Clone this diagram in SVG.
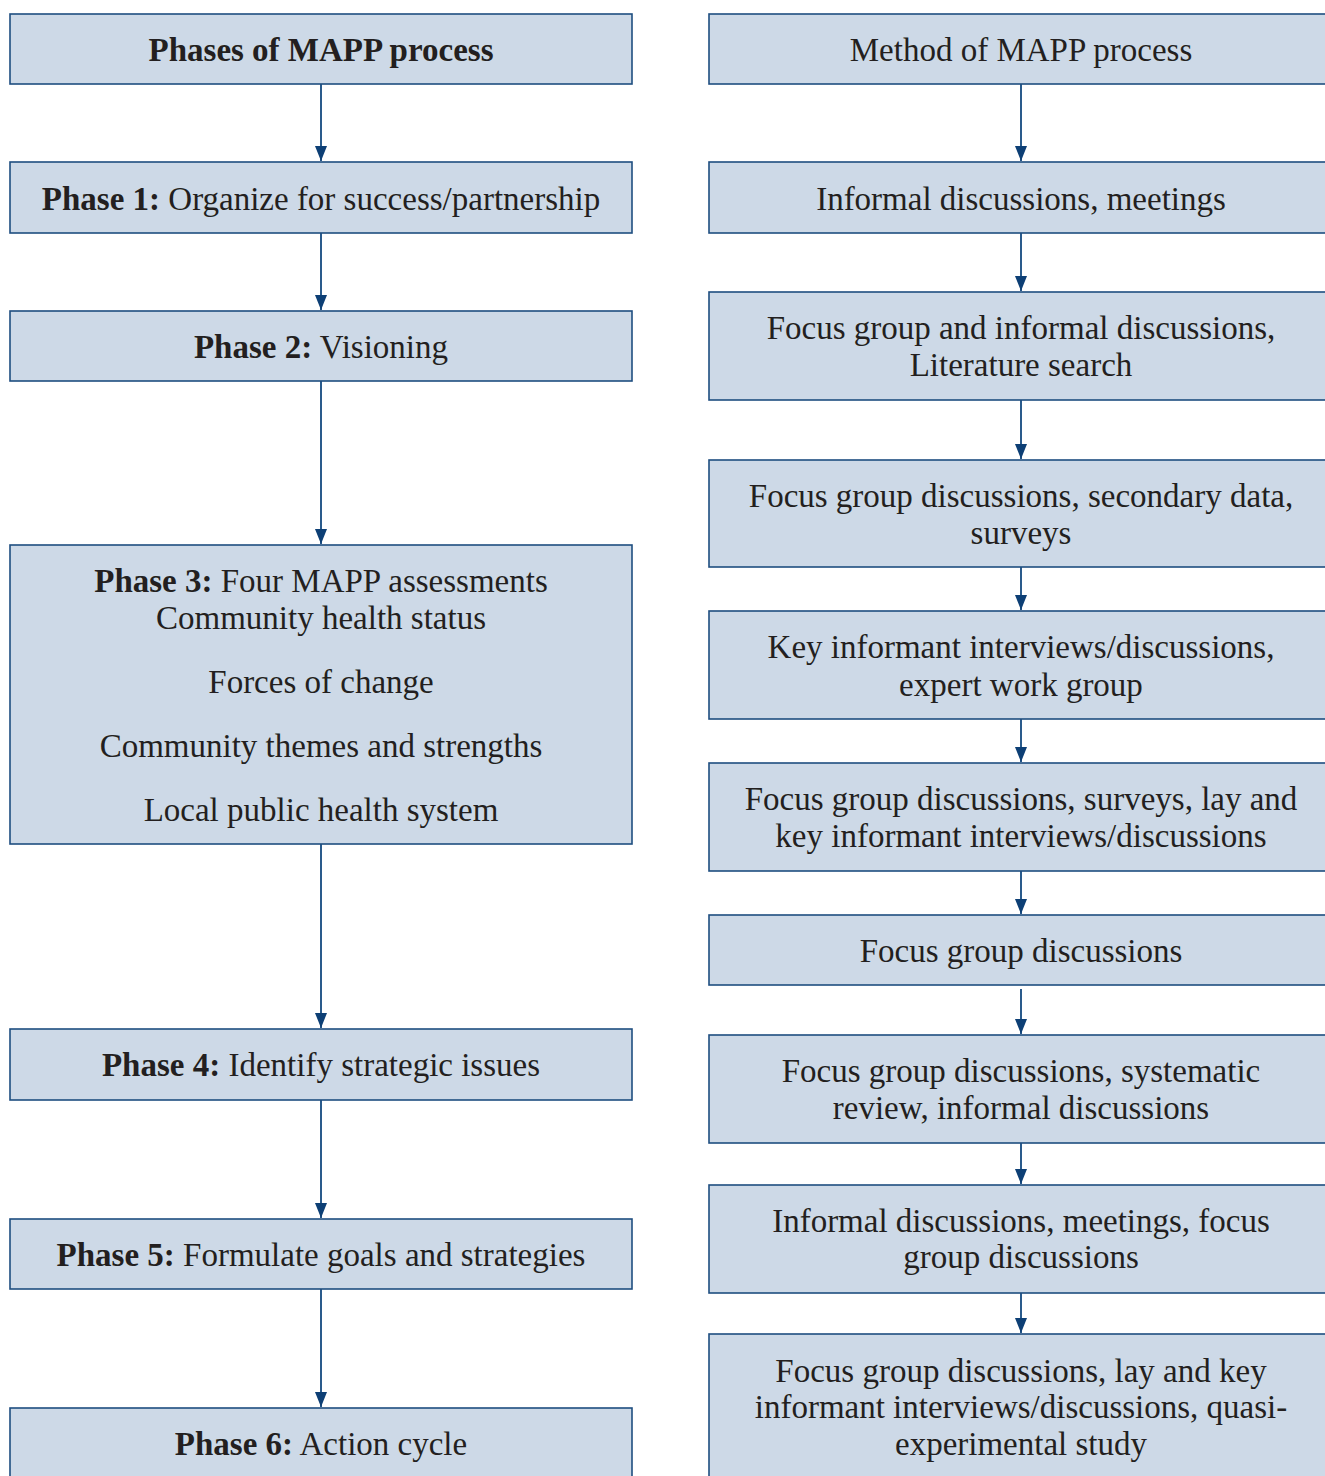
<svg xmlns="http://www.w3.org/2000/svg" width="1325" height="1476" viewBox="0 0 1325 1476">
<defs>
<style>
.box{fill:#cdd9e7;stroke:#1f4e80;stroke-width:1.6}
.t{font-family:"Liberation Serif","DejaVu Serif",serif;font-size:33px;fill:#231f20;text-anchor:middle}
.b{font-weight:bold}
.c{stroke:#2a5b8c;stroke-width:2;fill:none}
</style>
<marker id="ah" viewBox="0 0 15 12" refX="15" refY="6" markerWidth="15" markerHeight="12" markerUnits="userSpaceOnUse" orient="auto">
<path d="M0,0 L15,6 L0,12 Z" fill="#0d3f75"/>
</marker>
</defs>
<rect width="1325" height="1476" fill="#ffffff"/>
<g id="connectors">
<line class="c" x1="321" y1="84" x2="321" y2="161" marker-end="url(#ah)"/>
<line class="c" x1="321" y1="233" x2="321" y2="310" marker-end="url(#ah)"/>
<line class="c" x1="321" y1="381" x2="321" y2="544" marker-end="url(#ah)"/>
<line class="c" x1="321" y1="844" x2="321" y2="1028" marker-end="url(#ah)"/>
<line class="c" x1="321" y1="1100" x2="321" y2="1218" marker-end="url(#ah)"/>
<line class="c" x1="321" y1="1289" x2="321" y2="1407" marker-end="url(#ah)"/>
<line class="c" x1="1021" y1="84" x2="1021" y2="161" marker-end="url(#ah)"/>
<line class="c" x1="1021" y1="233" x2="1021" y2="291" marker-end="url(#ah)"/>
<line class="c" x1="1021" y1="400" x2="1021" y2="459" marker-end="url(#ah)"/>
<line class="c" x1="1021" y1="567" x2="1021" y2="610" marker-end="url(#ah)"/>
<line class="c" x1="1021" y1="719" x2="1021" y2="762" marker-end="url(#ah)"/>
<line class="c" x1="1021" y1="871" x2="1021" y2="914" marker-end="url(#ah)"/>
<line class="c" x1="1021" y1="989" x2="1021" y2="1034" marker-end="url(#ah)"/>
<line class="c" x1="1021" y1="1143" x2="1021" y2="1184" marker-end="url(#ah)"/>
<line class="c" x1="1021" y1="1293" x2="1021" y2="1333" marker-end="url(#ah)"/>
</g>
<g id="phases-header"><rect class="box" x="10" y="14" width="622" height="70"/><text class="t b" x="321" y="61">Phases of MAPP process</text></g>
<g id="phase1"><rect class="box" x="10" y="162" width="622" height="71"/><text class="t" x="321" y="210"><tspan class="b">Phase 1:</tspan> Organize for success/partnership</text></g>
<g id="phase2"><rect class="box" x="10" y="311" width="622" height="70"/><text class="t" x="321" y="358"><tspan class="b">Phase 2:</tspan> Visioning</text></g>
<g id="phase3"><rect class="box" x="10" y="545" width="622" height="299"/>
<text class="t" x="321" y="592"><tspan class="b">Phase 3:</tspan> Four MAPP assessments</text>
<text class="t" x="321" y="629">Community health status</text>
<text class="t" x="321" y="693">Forces of change</text>
<text class="t" x="321" y="757">Community themes and strengths</text>
<text class="t" x="321" y="821">Local public health system</text></g>
<g id="phase4"><rect class="box" x="10" y="1029" width="622" height="71"/><text class="t" x="321" y="1076"><tspan class="b">Phase 4:</tspan> Identify strategic issues</text></g>
<g id="phase5"><rect class="box" x="10" y="1219" width="622" height="70"/><text class="t" x="321" y="1266"><tspan class="b">Phase 5:</tspan> Formulate goals and strategies</text></g>
<g id="phase6"><rect class="box" x="10" y="1408" width="622" height="80"/><text class="t" x="321" y="1455"><tspan class="b">Phase 6:</tspan> Action cycle</text></g>
<g id="method-header"><rect class="box" x="709" y="14" width="630" height="70"/><text class="t" x="1021" y="61">Method of MAPP process</text></g>
<g id="m1"><rect class="box" x="709" y="162" width="630" height="71"/><text class="t" x="1021" y="210">Informal discussions, meetings</text></g>
<g id="m2"><rect class="box" x="709" y="292" width="630" height="108"/><text class="t" x="1021" y="339">Focus group and informal discussions,</text><text class="t" x="1021" y="376">Literature search</text></g>
<g id="m3"><rect class="box" x="709" y="460" width="630" height="107"/><text class="t" x="1021" y="507">Focus group discussions, secondary data,</text><text class="t" x="1021" y="544">surveys</text></g>
<g id="m4"><rect class="box" x="709" y="611" width="630" height="108"/><text class="t" x="1021" y="658">Key informant interviews/discussions,</text><text class="t" x="1021" y="696">expert work group</text></g>
<g id="m5"><rect class="box" x="709" y="763" width="630" height="108"/><text class="t" x="1021" y="810">Focus group discussions, surveys, lay and</text><text class="t" x="1021" y="847">key informant interviews/discussions</text></g>
<g id="m6"><rect class="box" x="709" y="915" width="630" height="70"/><text class="t" x="1021" y="962">Focus group discussions</text></g>
<g id="m7"><rect class="box" x="709" y="1035" width="630" height="108"/><text class="t" x="1021" y="1082">Focus group discussions, systematic</text><text class="t" x="1021" y="1119">review, informal discussions</text></g>
<g id="m8"><rect class="box" x="709" y="1185" width="630" height="108"/><text class="t" x="1021" y="1232">Informal discussions, meetings, focus</text><text class="t" x="1021" y="1268">group discussions</text></g>
<g id="m9"><rect class="box" x="709" y="1334" width="630" height="160"/><text class="t" x="1021" y="1382">Focus group discussions, lay and key</text><text class="t" x="1021" y="1418">informant interviews/discussions, quasi-</text><text class="t" x="1021" y="1455">experimental study</text></g>
</svg>
